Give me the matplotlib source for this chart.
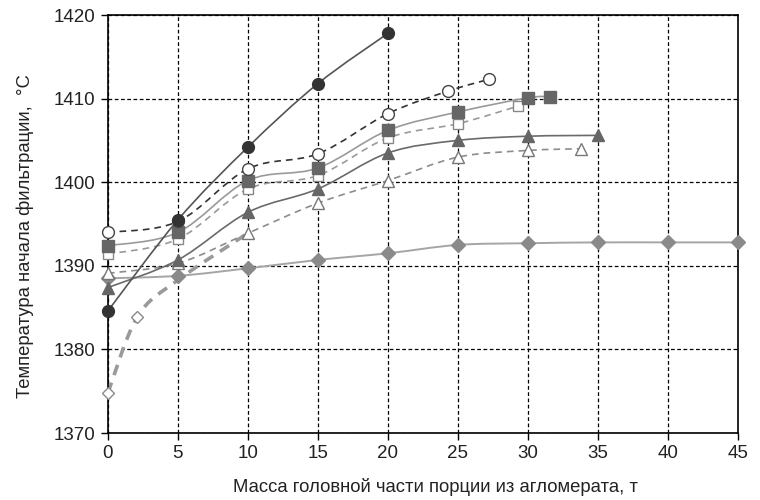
import matplotlib
matplotlib.use("Agg")
import matplotlib.pyplot as plt
from matplotlib.path import Path
from matplotlib.patches import PathPatch
import numpy as np

# ---- data ----
x_fcirc = [0, 5, 10, 15, 20]
y_fcirc = [1384.6, 1395.5, 1404.2, 1411.8, 1417.8]

x_ocirc = [0, 5, 10, 15, 20, 24.3, 27.2]
y_ocirc = [1394.0, 1395.3, 1401.6, 1403.4, 1408.2, 1410.9, 1412.3]

x_fsq = [0, 5, 10, 15, 20, 25, 30, 31.6]
y_fsq = [1392.4, 1394.0, 1400.2, 1401.7, 1406.2, 1408.4, 1410.1, 1410.2]

x_osq = [0, 5, 10, 15, 20, 25, 29.3]
y_osq = [1391.4, 1393.2, 1399.2, 1400.8, 1405.3, 1407.0, 1409.1]

x_ftri = [0, 5, 10, 15, 20, 25, 30, 35]
y_ftri = [1387.4, 1390.7, 1396.4, 1399.2, 1403.5, 1405.0, 1405.5, 1405.6]

x_otri = [0, 5, 10, 15, 20, 25, 30, 33.8]
y_otri = [1389.1, 1390.3, 1393.9, 1397.5, 1400.2, 1403.0, 1403.8, 1404.0]

x_fdia = [0, 5, 10, 15, 20, 25, 30, 35, 40, 45]
y_fdia = [1388.5, 1388.8, 1389.7, 1390.7, 1391.5, 1392.5, 1392.7, 1392.8, 1392.8, 1392.8]

x_odia = [0, 2.1, 5, 10]
y_odia = [1374.8, 1383.9, 1388.3, 1393.9]
odia_marker_n = 2

xticks = [0, 5, 10, 15, 20, 25, 30, 35, 40, 45]
yticks = [1370, 1380, 1390, 1400, 1410, 1420]

FONT = ['Liberation Sans', 'DejaVu Sans']
NARROW = ['Liberation Sans Narrow', 'Liberation Sans', 'DejaVu Sans']


def smooth_path(xs, ys):
    pts = np.column_stack([xs, ys]).astype(float)
    n = len(pts)
    verts = [pts[0]]
    codes = [Path.MOVETO]
    for i in range(n - 1):
        p0 = pts[i - 1] if i > 0 else pts[i]
        p1 = pts[i]
        p2 = pts[i + 1]
        p3 = pts[i + 2] if i + 2 < n else pts[i + 1]
        c1 = p1 + (p2 - p0) / 6.0
        c2 = p2 - (p3 - p1) / 6.0
        verts += [c1, c2, p2]
        codes += [Path.CURVE4] * 3
    return Path(verts, codes)


def series(ax, xs, ys, lcolor, lw, marker, mfc, mec, ms, nmark=None, dashes=None):
    patch = PathPatch(smooth_path(xs, ys), facecolor='none', edgecolor=lcolor,
                      lw=lw, zorder=3, capstyle='butt')
    if dashes is not None:
        patch.set_linestyle((0, dashes))
    ax.add_patch(patch)
    k = len(xs) if nmark is None else nmark
    ax.plot(xs[:k], ys[:k], linestyle='none', marker=marker, mfc=mfc, mec=mec,
            ms=ms, mew=1.0, zorder=6, clip_on=False)


fig = plt.figure(figsize=(7.6, 5.0), dpi=100)
ax = fig.add_axes([0.142, 0.134, 0.829, 0.836])

ax.set_xlim(0, 45)
ax.set_ylim(1370, 1420)
ax.set_xticks(xticks)
ax.set_yticks(yticks)
ax.grid(True, color='black', linestyle=(0, (3, 2)), lw=0.9, zorder=1)
for s in ax.spines.values():
    s.set_color('black')
    s.set_linewidth(1.2)
    s.set_zorder(5)
ax.tick_params(direction='out', length=5, width=1, colors='black', pad=4)
for lab in ax.get_xticklabels() + ax.get_yticklabels():
    lab.set_family(FONT)
    lab.set_fontsize(13.5)
    lab.set_color('#222222')

# series
series(ax, x_odia, y_odia, '#9a9a9a', 2.6, 'D', 'white', '#8a8a8a', 6.5,
       nmark=odia_marker_n, dashes=(3, 2.2))
series(ax, x_fdia, y_fdia, '#a5a5a5', 1.4, 'D', '#8a8a8a', '#8a8a8a', 7)
series(ax, x_otri, y_otri, '#8c8c8c', 1.2, '^', 'white', '#777777', 8, dashes=(4, 3))
series(ax, x_ftri, y_ftri, '#6a6a6a', 1.2, '^', '#666666', '#666666', 8.5)
series(ax, x_osq, y_osq, '#9a9a9a', 1.2, 's', 'white', '#888888', 7.5, dashes=(4, 3))
series(ax, x_fsq, y_fsq, '#9a9a9a', 1.2, 's', '#666666', '#666666', 8)
series(ax, x_ocirc, y_ocirc, '#333333', 1.2, 'o', 'white', '#444444', 8.5, dashes=(4, 3))
series(ax, x_fcirc, y_fcirc, '#555555', 1.2, 'o', '#333333', '#333333', 8.5)

ax.set_xlabel('Масса головной части порции из агломерата, т', family=NARROW,
              fontsize=13.3, color='#222222', labelpad=12)
ax.xaxis.set_label_coords(0.52, -0.107)
ax.set_ylabel('Температура начала фильтрации,  °С', family=NARROW,
              fontsize=13.3, color='#222222', labelpad=14)
ax.yaxis.set_label_coords(-0.118, 0.47)

fig.savefig('out.png', dpi=100)
